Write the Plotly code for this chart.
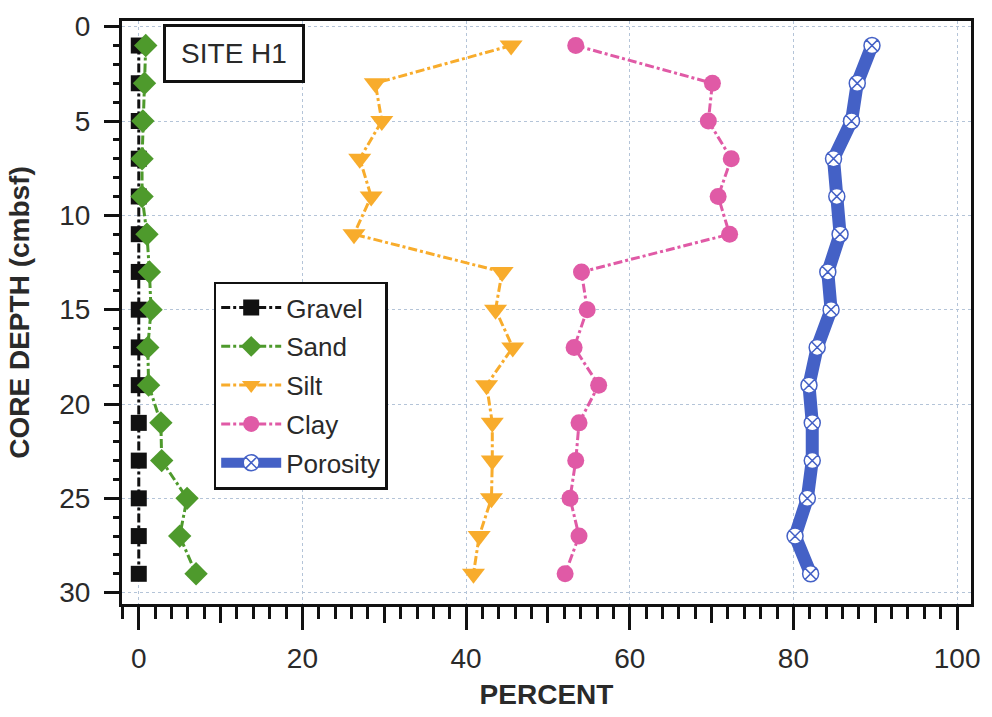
import plotly.graph_objects as go

depth = [1, 3, 5, 7, 9, 11, 13, 15, 17, 19, 21, 23, 25, 27, 29]
gravel = [0, 0, 0, 0, 0, 0, 0, 0, 0, 0, 0, 0, 0, 0, 0]
sand = [0.85, 0.7, 0.5, 0.4, 0.4, 1.0, 1.3, 1.5, 1.1, 1.2, 2.7, 2.8, 5.9, 5.0, 7.0]
silt = [45.5, 28.9, 29.7, 27.0, 28.4, 26.3, 44.4, 43.6, 45.7, 42.5, 43.2, 43.2, 43.1, 41.6, 40.9]
clay = [53.4, 70.1, 69.6, 72.4, 70.8, 72.2, 54.1, 54.8, 53.2, 56.2, 53.8, 53.4, 52.7, 53.8, 52.1]
porosity = [89.6, 87.8, 87.1, 84.9, 85.3, 85.7, 84.2, 84.6, 82.9, 81.9, 82.3, 82.3, 81.7, 80.2, 82.1]
x_ticks = [0, 20, 40, 60, 80, 100]
x_mid_ticks = [10, 30, 50, 70, 90]
y_ticks = [0, 5, 10, 15, 20, 25, 30]

FONT = "Liberation Sans, Arial, sans-serif"
TXT = "#2a2a2a"
BLK = "#111111"
XR = [-2.05, 101.7]

fig = go.Figure()

series = [
    ("Gravel", gravel, BLK, "square", 16),
    ("Sand", sand, "#4e9a2c", "diamond", 18),
    ("Silt", silt, "#f8ac2c", "triangle-down", 20),
    ("Clay", clay, "#e05aa6", "circle", 17),
]
for name, vals, col, sym, sz in series:
    fig.add_trace(go.Scatter(
        x=vals, y=depth, name=name, mode="lines+markers", legendgroup=name,
        line=dict(color=col, width=3, dash="dashdot"),
        marker=dict(symbol=sym, size=sz, color=col, line=dict(width=0)),
    ))

fig.add_trace(go.Scatter(
    x=porosity, y=depth, name="Porosity", mode="lines+markers", legendgroup="Porosity",
    line=dict(color="#4461c6", width=13),
    marker=dict(symbol="circle-x", size=16, color="white",
                line=dict(color="#4461c6", width=1.5)),
))

# helper trace to carry the medium-tick axis
fig.add_trace(go.Scatter(x=[x_mid_ticks[0]], y=[depth[0]], xaxis="x2", mode="markers",
                         marker=dict(opacity=0), showlegend=False, hoverinfo="skip"))

fig.update_layout(
    width=992, height=717,
    margin=dict(l=122, r=20, t=12, b=113),
    paper_bgcolor="white", plot_bgcolor="white",
    font=dict(family=FONT, size=28, color=TXT),
    showlegend=True,
    legend=dict(
        x=0.108, y=0.553, xanchor="left", yanchor="top",
        bordercolor=BLK, borderwidth=2.5, bgcolor="white",
        font=dict(family=FONT, size=26, color=TXT),
        traceorder="grouped", tracegroupgap=2, itemwidth=60,
    ),
    xaxis=dict(
        range=XR, tickvals=x_ticks,
        showgrid=True, gridcolor="#b4c4d8", griddash="dot", gridwidth=1,
        zeroline=False, showline=True, linecolor=BLK, linewidth=3, mirror=True,
        ticks="outside", ticklen=23, tickwidth=2.5, tickcolor=BLK,
        minor=dict(dtick=2, tick0=0, ticks="outside", ticklen=12, tickwidth=2.5, tickcolor=BLK, showgrid=False),
        tickfont=dict(size=28, color=TXT), ticklabelstandoff=4,
        title=dict(text="<b>PERCENT</b>", font=dict(size=28, color=TXT), standoff=12),
    ),
    xaxis2=dict(
        range=XR, overlaying="x", side="bottom", anchor="y",
        tickvals=x_mid_ticks, showticklabels=False,
        ticks="outside", ticklen=18, tickwidth=2.5, tickcolor=BLK,
        showgrid=False, zeroline=False, showline=False,
    ),
    yaxis=dict(
        range=[30.6, -0.3], tickvals=y_ticks,
        showgrid=True, gridcolor="#b4c4d8", griddash="dot", gridwidth=1,
        zeroline=False, showline=True, linecolor=BLK, linewidth=3, mirror=True,
        ticks="outside", ticklen=15, tickwidth=2.5, tickcolor=BLK,
        minor=dict(dtick=1, tick0=0, ticks="outside", ticklen=6, tickwidth=2.5, tickcolor=BLK, showgrid=False),
        tickfont=dict(size=28, color=TXT), ticklabelstandoff=8,
        title=dict(text="<b>CORE DEPTH (cmbsf)</b>", font=dict(size=28, color=TXT), standoff=22),
    ),
    annotations=[dict(
        text="SITE H1", xref="paper", yref="paper", x=0.132, y=0.945,
        xanchor="center", yanchor="middle", showarrow=False,
        font=dict(family=FONT, size=28, color=TXT),
        bordercolor=BLK, borderwidth=3, borderpad=3, bgcolor="white",
        width=130, height=47,
    )],
)

fig.write_html("out.html")
